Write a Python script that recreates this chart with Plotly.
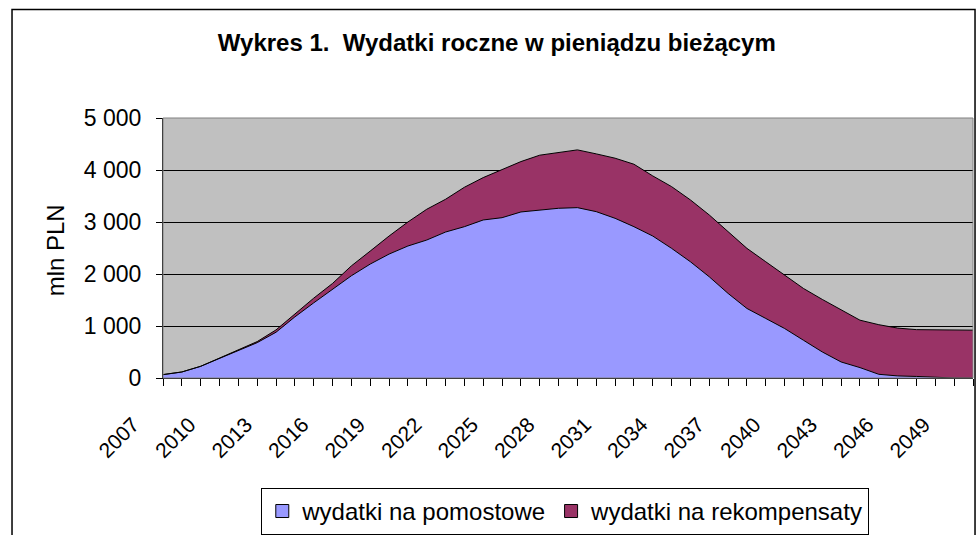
import plotly.graph_objects as go

years = list(range(2007, 2051))
pomostowe = [65, 116, 225, 380, 525, 680, 880, 1175, 1445, 1703,
             1966, 2191, 2383, 2538, 2653, 2807, 2910, 3039, 3083, 3193,
             3231, 3264, 3276, 3199, 3071, 2910, 2730, 2493, 2235, 1946,
             1626, 1337, 1145, 952, 726, 501, 308, 200, 71, 40,
             30, 10, 0, 0]
rekompensaty = [0, 0, 0, 5, 10, 20, 45, 60, 90, 115,
                190, 250, 347, 462, 592, 630, 758, 815, 919, 969,
                1054, 1079, 1111, 1111, 1156, 1201, 1156, 1187, 1189, 1189,
                1187, 1156, 1090, 1027, 996, 1010, 1010, 912, 954, 920,
                900, 912, 920, 920]
series_names = ["wydatki na pomostowe", "wydatki na rekompensaty"]
series_colors = ["#9999FF", "#993366"]
tick_labels = [str(y) if (y - 2007) % 3 == 0 else "" for y in years]
y_ticks = [0, 1000, 2000, 3000, 4000, 5000]
y_labels = ["0", "1 000", "2 000", "3 000", "4 000", "5 000"]

FONT = "Liberation Sans, Arial, sans-serif"

fig = go.Figure()
for vals, name, col in zip([pomostowe, rekompensaty], series_names, series_colors):
    fig.add_trace(go.Scatter(
        x=years, y=vals, name=name, stackgroup="one", showlegend=False,
        mode="lines", line=dict(color="black", width=1), fillcolor=col))
# legend entries with square swatches
for name, col in zip(series_names, series_colors):
    fig.add_trace(go.Scatter(
        x=[None], y=[None], name=name, mode="markers",
        marker=dict(symbol="square", size=13, color=col, line=dict(color="black", width=1))))

fig.update_layout(
    width=978, height=535,
    margin=dict(l=163, r=5, t=118, b=157),
    paper_bgcolor="white", plot_bgcolor="#C0C0C0",
    font=dict(family=FONT, size=22, color="black"),
    title=dict(text="<b>Wykres 1.  Wydatki roczne w pieniądzu bieżącym</b>",
               x=0.508, xref="container", xanchor="center",
               y=0.92, yref="container", yanchor="middle",
               font=dict(size=24, family=FONT)),
    showlegend=True,
    legend=dict(orientation="h", x=0.578, xref="container", xanchor="center",
                y=0.088, yref="container", yanchor="top",
                bordercolor="black", borderwidth=1, bgcolor="white",
                font=dict(size=24), itemwidth=30, traceorder="normal",
                itemsizing="trace", tracegroupgap=0),
    xaxis=dict(range=[2007, 2050], tickmode="array", tickvals=years, ticktext=tick_labels,
               tickangle=-45, ticks="outside", ticklen=7, tickwidth=1, tickcolor="black",
               showline=True, linecolor="black", linewidth=1, showgrid=False,
               zeroline=False, tickfont=dict(size=21), automargin=False,
               ticklabelstandoff=18, ticklabelshift=-30),
    yaxis=dict(range=[0, 5000], tickmode="array", tickvals=y_ticks, ticktext=y_labels,
               ticks="outside", ticklen=6, tickwidth=1, tickcolor="black",
               showline=True, linecolor="black", linewidth=1,
               showgrid=True, gridcolor="black", gridwidth=1, zeroline=False,
               tickfont=dict(size=23), automargin=False, ticklabelstandoff=10),
    annotations=[dict(text="mln PLN", textangle=-90, xref="paper", yref="paper",
                      x=-0.133, y=0.492, xanchor="center", yanchor="middle",
                      showarrow=False, font=dict(size=24))],
    shapes=[
        dict(type="rect", xref="paper", yref="paper", x0=0, x1=1, y0=0, y1=1,
             line=dict(color="#808080", width=1), layer="above"),
        dict(type="rect", xref="paper", yref="paper", x0=-0.1864, x1=1.0025,
             y0=-1.0, y1=1.4175, line=dict(color="black", width=1.5)),
    ],
)

fig.write_html("out.html", config={"displayModeBar": False},
               post_script="document.body.style.margin='0';document.body.style.padding='0';")
